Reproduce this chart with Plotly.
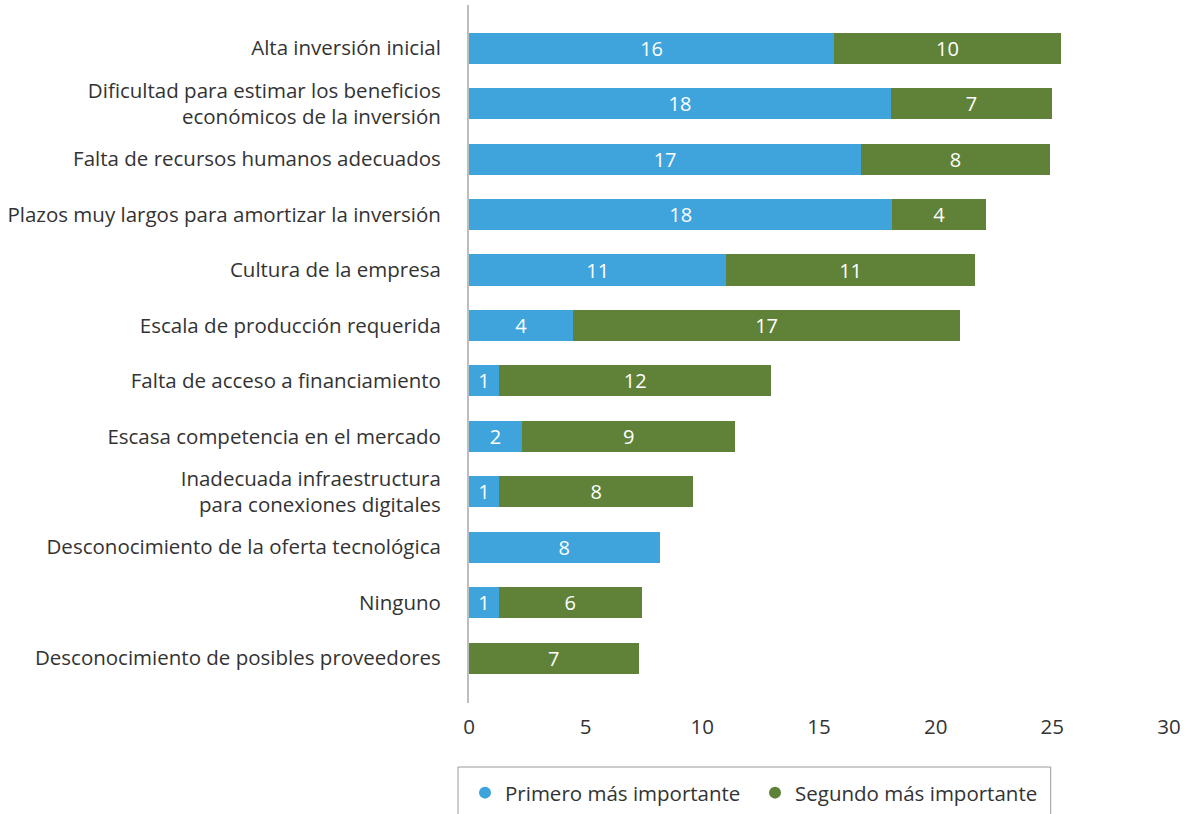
import plotly.graph_objects as go

# Barriers to adopting new technology, ordered top to bottom
categories = [
    "Alta inversión inicial",
    "Dificultad para estimar los beneficios<br>económicos de la inversión",
    "Falta de recursos humanos adecuados",
    "Plazos muy largos para amortizar la inversión",
    "Cultura de la empresa",
    "Escala de producción requerida",
    "Falta de acceso a financiamiento",
    "Escasa competencia en el mercado",
    "Inadecuada infraestructura<br>para conexiones digitales",
    "Desconocimiento de la oferta tecnológica",
    "Ninguno",
    "Desconocimiento de posibles proveedores",
]
primero = [15.65, 18.09, 16.81, 18.14, 11.03, 4.47, 1.28, 2.27, 1.28, 8.17, 1.28, 0]
segundo = [9.71, 6.89, 8.08, 4.02, 10.65, 16.57, 11.68, 9.15, 8.34, 0, 6.12, 7.27]
x_ticks = [0, 5, 10, 15, 20, 25, 30]

series_names = ["Primero más importante", "Segundo más importante"]
BLUE = "#40a4dc"
GREEN = "#5f8238"
FONT = "Open Sans"
TEXT_COLOR = "#333333"
LABEL_SIZE = 20.5


def labels(values):
    return [f"{v:.0f}" if v > 0 else "" for v in values]


fig = go.Figure()
for name, vals, color in [(series_names[0], primero, BLUE), (series_names[1], segundo, GREEN)]:
    fig.add_trace(go.Bar(
        y=categories, x=vals, orientation="h", name=name,
        marker=dict(color=color, line=dict(width=0)),
        text=labels(vals), textposition="inside", insidetextanchor="middle",
        textangle=0,
        textfont=dict(family=FONT, size=20, color="white"),
        constraintext="none", cliponaxis=False,
        showlegend=False, hoverinfo="x+name",
    ))
    # round legend symbols
    fig.add_trace(go.Scatter(
        x=[None], y=[None], mode="markers", name=name,
        marker=dict(color=color, size=16, symbol="circle"),
        showlegend=True,
    ))

# frame around the legend
fig.add_shape(
    type="rect", xref="paper", yref="paper",
    x0=-0.0157, x1=0.831, y0=-0.175, y1=-0.0917,
    line=dict(color="#9a9a9a", width=1), fillcolor="rgba(0,0,0,0)",
)

fig.update_layout(
    width=1190, height=814,
    margin=dict(l=469, r=21, t=5, b=111, autoexpand=False),
    barmode="stack", bargap=0.44,
    plot_bgcolor="white", paper_bgcolor="white",
    font=dict(family=FONT, size=LABEL_SIZE, color=TEXT_COLOR),
    legend=dict(
        orientation="h", x=-0.0057, xanchor="left", y=-0.1, yanchor="top",
        borderwidth=0, bgcolor="rgba(0,0,0,0)",
        font=dict(family=FONT, size=LABEL_SIZE, color=TEXT_COLOR),
        itemsizing="constant", traceorder="normal",
        entrywidth=245, entrywidthmode="pixels",
    ),
    xaxis=dict(
        range=[0, 30], tickvals=x_ticks, showgrid=False, zeroline=False,
        showline=False, ticks="", ticklabelstandoff=9,
        tickfont=dict(family=FONT, size=LABEL_SIZE, color=TEXT_COLOR),
        fixedrange=True,
    ),
    yaxis=dict(
        type="category", categoryorder="array", categoryarray=categories,
        range=[11.81, -0.78], showgrid=False, zeroline=False,
        showline=True, linecolor="#bdbdbd", linewidth=2, ticks="",
        ticklabelstandoff=22,
        tickfont=dict(family=FONT, size=LABEL_SIZE, color=TEXT_COLOR),
        fixedrange=True,
    ),
)

fig.write_html("out.html")
